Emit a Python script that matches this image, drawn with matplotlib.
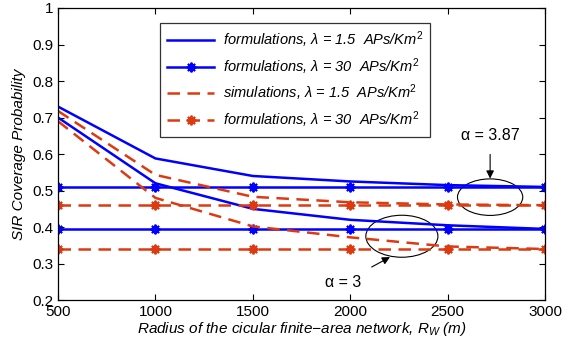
import matplotlib
matplotlib.use("Agg")
import matplotlib.pyplot as plt
from matplotlib.patches import Ellipse

plt.rcParams['font.family'] = ['Liberation Sans', 'DejaVu Sans']
plt.rcParams['mathtext.fontset'] = 'custom'
plt.rcParams['mathtext.rm'] = 'Liberation Sans'
plt.rcParams['mathtext.it'] = 'Liberation Sans:italic'

radius = [500, 1000, 1500, 2000, 2500, 3000]
form_l15_a387 = [0.73, 0.588, 0.540, 0.525, 0.515, 0.510]
form_l15_a3 = [0.70, 0.520, 0.450, 0.420, 0.405, 0.395]
form_l30_a387 = [0.510, 0.510, 0.510, 0.510, 0.510, 0.510]
form_l30_a3 = [0.395, 0.395, 0.395, 0.395, 0.395, 0.395]
sim_l15_a387 = [0.718, 0.543, 0.483, 0.468, 0.462, 0.460]
sim_l15_a3 = [0.690, 0.480, 0.402, 0.372, 0.347, 0.340]
form2_l30_a387 = [0.460, 0.460, 0.460, 0.460, 0.460, 0.460]
form2_l30_a3 = [0.340, 0.340, 0.340, 0.340, 0.340, 0.340]

labels = ["formulations, λ = 1.5  APs/Km$^2$",
          "formulations, λ = 30  APs/Km$^2$",
          "simulations, λ = 1.5  APs/Km$^2$",
          "formulations, λ = 30  APs/Km$^2$"]

blue = '#0000ff'
red = '#dd3a12'
mk = (8, 2, 0)

fig = plt.figure(figsize=(5.66, 3.47), dpi=100)
ax = fig.add_axes([0.1025, 0.135, 0.8605, 0.842])

l1, = ax.plot(radius, form_l15_a387, color=blue, lw=1.8)
ax.plot(radius, form_l15_a3, color=blue, lw=1.8)
l2, = ax.plot(radius, form_l30_a387, color=blue, lw=1.8, marker=mk, ms=7, mew=1.4)
ax.plot(radius, form_l30_a3, color=blue, lw=1.8, marker=mk, ms=7, mew=1.4)
l3, = ax.plot(radius, sim_l15_a387, color=red, lw=1.8, ls=(0, (5, 3)))
ax.plot(radius, sim_l15_a3, color=red, lw=1.8, ls=(0, (5, 3)))
l4, = ax.plot(radius, form2_l30_a387, color=red, lw=1.8, ls=(0, (5, 3)), marker=mk, ms=7, mew=1.4)
ax.plot(radius, form2_l30_a3, color=red, lw=1.8, ls=(0, (5, 3)), marker=mk, ms=7, mew=1.4)

ax.set_xlim(500, 3000)
ax.set_ylim(0.2, 1.0)
ax.set_xticks([500, 1000, 1500, 2000, 2500, 3000])
ax.set_yticks([0.2, 0.3, 0.4, 0.5, 0.6, 0.7, 0.8, 0.9, 1.0])
ax.set_yticklabels(['0.2', '0.3', '0.4', '0.5', '0.6', '0.7', '0.8', '0.9', '1'])
ax.tick_params(direction='in', top=True, right=True, labelsize=11, length=4)
for s in ax.spines.values():
    s.set_linewidth(0.9)

ax.set_xlabel("Radius of the cicular finite−area network, $R_W$ (m)", fontstyle='italic', fontsize=11, labelpad=1)
ax.set_ylabel("SIR Coverage Probability", fontstyle='italic', fontsize=11, labelpad=4)

leg = ax.legend([l1, l2, l3, l4], labels, loc='upper center', bbox_to_anchor=(0.487, 0.975),
                prop={'style': 'italic', 'size': 10.5}, frameon=True, fancybox=False,
                edgecolor='black', handlelength=3.2, borderpad=0.5, labelspacing=0.4,
                handletextpad=0.6)
leg.get_frame().set_linewidth(0.9)

ax.add_patch(Ellipse((2718, 0.482), 335, 0.10, fill=False, ec='black', lw=0.8))
ax.add_patch(Ellipse((2265, 0.375), 370, 0.115, fill=False, ec='black', lw=0.8))

ax.annotate("α = 3.87", xy=(2718, 0.533), xytext=(2718, 0.65), ha='center', va='center', fontsize=11.5,
            arrowprops=dict(arrowstyle='-|>', color='black', lw=0.8, shrinkA=6, shrinkB=0))
ax.annotate("α = 3", xy=(2204, 0.318), xytext=(1963, 0.248), ha='center', va='center', fontsize=11.5,
            arrowprops=dict(arrowstyle='-|>', color='black', lw=0.8, shrinkA=8, shrinkB=0))

fig.savefig("out.png", dpi=100)
